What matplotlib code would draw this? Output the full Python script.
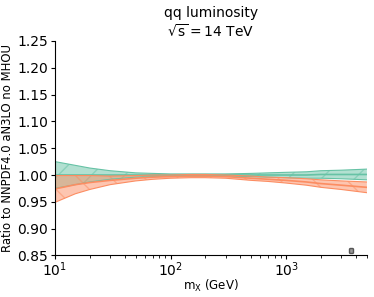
import numpy as np
import matplotlib
matplotlib.use("Agg")
import matplotlib.pyplot as plt

# mass grid (GeV)
mx = [10, 15, 20, 30, 50, 70, 100, 150, 200, 300, 500, 700, 1000, 1500, 2000, 3000, 5000]

# NNPDF4.0 aN3LO no MHOU (reference)
ref_central = [1.0, 1.0, 1.0, 1.0, 1.0, 1.0, 1.0, 1.0, 1.0, 1.0, 1.0, 1.0, 1.0, 1.0, 1.001, 1.001, 1.001]
ref_err = [0.025, 0.018, 0.013, 0.008, 0.004, 0.003, 0.002, 0.002, 0.002, 0.002, 0.003, 0.004, 0.005, 0.006, 0.007, 0.008, 0.010]

# second fit
alt_central = [0.974, 0.982, 0.986, 0.990, 0.994, 0.996, 0.997, 0.998, 0.998, 0.997, 0.994, 0.992, 0.990, 0.987, 0.984, 0.981, 0.977]
alt_err = [0.025, 0.017, 0.013, 0.008, 0.005, 0.004, 0.003, 0.003, 0.003, 0.003, 0.004, 0.004, 0.005, 0.006, 0.007, 0.008, 0.010]

GREEN = "#66c2a5"
ORANGE = "#fc8d62"


def draw_band(ax, x, c, e, color, hatch):
    x = np.array(x)
    c = np.array(c)
    e = np.array(e)
    ax.fill_between(x, c - e, c + e, facecolor=color, alpha=0.5,
                    edgecolor=color, hatch=hatch, linewidth=0)
    ax.plot(x, c, color=color, lw=1.2)
    ax.plot(x, c + e, color=color, lw=0.8)
    ax.plot(x, c - e, color=color, lw=0.8)


fig = plt.figure(figsize=(3.74, 2.97), dpi=100)
ax = fig.add_axes([0.147, 0.14, 0.834, 0.722])

draw_band(ax, mx, ref_central, ref_err, GREEN, "/")
draw_band(ax, mx, alt_central, alt_err, ORANGE, "\\")

ax.set_xscale("log")
ax.set_xlim(10, 5000)
ax.set_ylim(0.85, 1.25)
ax.set_yticks([0.85, 0.90, 0.95, 1.00, 1.05, 1.10, 1.15, 1.20, 1.25])
ax.set_yticklabels(["0.85", "0.90", "0.95", "1.00", "1.05", "1.10", "1.15", "1.20", "1.25"])
ax.tick_params(labelsize=10, length=3, pad=2)
ax.tick_params(axis="x", pad=0.5)
ax.tick_params(which="minor", length=2)
ax.spines["top"].set_visible(False)
ax.spines["right"].set_visible(False)

ax.set_xlabel(r"$\mathrm{m_X}$ (GeV)", fontsize=8.5, labelpad=-1)
ax.set_ylabel("Ratio to NNPDF4.0 aN3LO no MHOU", fontsize=8.4, labelpad=2)
ax.set_title("qq luminosity\n" + r"$\sqrt{\mathrm{s}} = 14$ TeV", fontsize=10, pad=3)

leg = ax.legend(handles=[], loc="lower right", bbox_to_anchor=(0.965, 0.0),
                fontsize=4, framealpha=1)
leg.get_frame().set_edgecolor("#555555")
leg.get_frame().set_facecolor("#999999")

fig.savefig("out.png", dpi=100)
